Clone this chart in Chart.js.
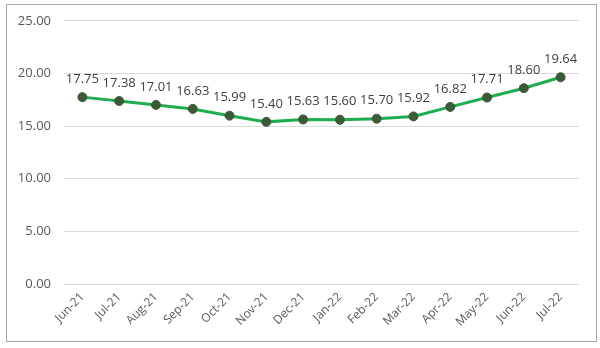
<!DOCTYPE html>
<html>
<head>
<meta charset="utf-8">
<script src="https://cdn.jsdelivr.net/npm/chart.js@4/dist/chart.umd.min.js"></script>
<style>
  html, body { margin: 0; padding: 0; background: #ffffff; }
  #wrap { width: 600px; height: 348px; position: relative; }
</style>
</head>
<body>
<div id="wrap"><canvas id="c" width="600" height="348"></canvas></div>
<script>
const months = ["Jun-21", "Jul-21", "Aug-21", "Sep-21", "Oct-21", "Nov-21", "Dec-21",
                "Jan-22", "Feb-22", "Mar-22", "Apr-22", "May-22", "Jun-22", "Jul-22"];
const values = [17.75, 17.38, 17.01, 16.63, 15.99, 15.40, 15.63,
                15.60, 15.70, 15.92, 16.82, 17.71, 18.60, 19.64];
const yTicks = [0, 5, 10, 15, 20, 25];

const FONT = "'Open Sans', 'DejaVu Sans', sans-serif";

// Frame around the whole chart
const framePlugin = {
  id: 'frame',
  beforeDraw(chart) {
    const ctx = chart.ctx;
    ctx.save();
    ctx.fillStyle = '#ffffff';
    ctx.fillRect(0, 0, chart.width, chart.height);
    ctx.strokeStyle = '#a6a6a6';
    ctx.lineWidth = 1;
    ctx.strokeRect(6.5, 4.5, 590, 337);
    ctx.restore();
  }
};

// Value labels above each point
const valueLabels = {
  id: 'valueLabels',
  afterDatasetsDraw(chart) {
    const ctx = chart.ctx;
    const meta = chart.getDatasetMeta(0);
    const data = chart.data.datasets[0].data;
    ctx.save();
    ctx.font = "13px " + FONT;
    ctx.fillStyle = '#404040';
    ctx.textAlign = 'center';
    ctx.textBaseline = 'middle';
    meta.data.forEach((pt, i) => {
      ctx.fillText(data[i].toFixed(2), pt.x, pt.y - 18);
    });
    ctx.restore();
  }
};

new Chart(document.getElementById('c'), {
  type: 'line',
  data: {
    labels: months,
    datasets: [{
      data: values,
      borderColor: '#1fae4f',
      borderWidth: 3,
      pointBackgroundColor: '#3d5a36',
      pointBorderColor: '#3d5a36',
      pointRadius: 4.5,
      pointBorderWidth: 1,
      tension: 0,
      fill: false
    }]
  },
  options: {
    responsive: false,
    animation: false,
    devicePixelRatio: 1,
    layout: { padding: { left: 0, right: 21, top: 20, bottom: 0 } },
    plugins: { legend: { display: false }, tooltip: { enabled: false } },
    scales: {
      x: {
        offset: true,
        grid: { display: false, drawTicks: false },
        border: { display: false },
        ticks: {
          color: '#595959',
          font: { family: FONT, size: 12 },
          minRotation: 45,
          maxRotation: 45,
          padding: 6,
          autoSkip: false
        },
        afterFit(s) { s.height = 348 - 284; }
      },
      y: {
        min: 0,
        max: 25,
        afterBuildTicks(s) { s.ticks = yTicks.map(v => ({ value: v })); },
        grid: { color: '#d9d9d9', lineWidth: 1, drawTicks: false },
        border: { display: false },
        ticks: {
          color: '#595959',
          font: { family: FONT, size: 13 },
          padding: 13,
          callback: v => Number(v).toFixed(2)
        },
        afterFit(s) { s.width = 64; }
      }
    }
  },
  plugins: [framePlugin, valueLabels]
});
</script>
</body>
</html>
